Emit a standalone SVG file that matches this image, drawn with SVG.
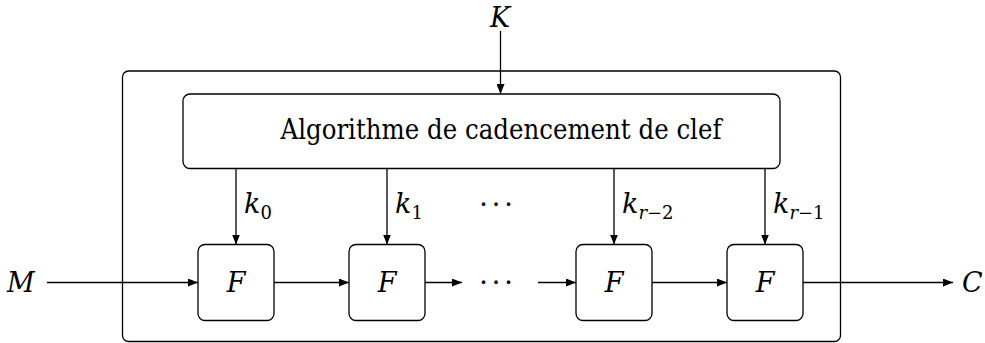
<svg xmlns="http://www.w3.org/2000/svg" width="985" height="343" viewBox="0 0 985 343">
  <style>
    .box { fill: #fff; stroke: #000; stroke-width: 1.3; }
    .wire { fill: none; stroke: #000; stroke-width: 1.3; marker-end: url(#tip); }
    text { font-family: "DejaVu Serif", serif; fill: #000; }
    .txt { font-size: 27px; }
    .math { font-style: italic; font-size: 27px; }
    .sub { font-size: 18px; font-style: normal; }
    .subi { font-style: italic; }
  </style>
  <defs>
    <marker id="tip" viewBox="0 0 10 8" refX="10" refY="4" markerWidth="10" markerHeight="8" markerUnits="userSpaceOnUse" orient="auto">
      <path d="M0,0 L10,4 L0,8 z" fill="#000"/>
    </marker>
  </defs>

  <!-- enclosing cipher block -->
  <g id="cipher">
    <rect class="box" x="122.5" y="71" width="718" height="270.5" rx="6"/>
  </g>

  <!-- key schedule -->
  <g id="key-schedule">
    <rect class="box" x="183" y="94" width="597" height="74.5" rx="7"/>
    <text class="txt" x="501" y="138.5" text-anchor="middle" textLength="441" lengthAdjust="spacingAndGlyphs">Algorithme de cadencement de clef</text>
  </g>

  <!-- round functions -->
  <g id="round-0">
    <rect class="box" x="198" y="244.5" width="76" height="76" rx="7"/>
    <text class="math" x="236" y="292" text-anchor="middle">F</text>
  </g>
  <g id="round-1">
    <rect class="box" x="349" y="244.5" width="76" height="76" rx="7"/>
    <text class="math" x="387" y="292" text-anchor="middle">F</text>
  </g>
  <g id="round-r-2">
    <rect class="box" x="576" y="244.5" width="76" height="76" rx="7"/>
    <text class="math" x="614" y="292" text-anchor="middle">F</text>
  </g>
  <g id="round-r-1">
    <rect class="box" x="727" y="244.5" width="76" height="76" rx="7"/>
    <text class="math" x="765" y="292" text-anchor="middle">F</text>
  </g>

  <!-- inputs, outputs and ellipses -->
  <g id="labels">
    <text class="math" x="500" y="27" text-anchor="middle">K</text>
    <text class="math" x="7" y="292">M</text>
    <text class="math" x="962" y="292">C</text>
    <text class="txt" x="498" y="292" text-anchor="middle" letter-spacing="4">···</text>
    <text class="txt" x="498" y="214" text-anchor="middle" letter-spacing="4">···</text>
    <text class="math" x="244" y="213">k<tspan class="sub" dy="6">0</tspan></text>
    <text class="math" x="395" y="213">k<tspan class="sub" dy="6">1</tspan></text>
    <text class="math" x="622" y="213">k<tspan class="sub" dy="6"><tspan class="subi">r</tspan>−2</tspan></text>
    <text class="math" x="773" y="213">k<tspan class="sub" dy="6"><tspan class="subi">r</tspan>−1</tspan></text>
  </g>

  <!-- connectors -->
  <g id="connectors">
    <line class="wire" x1="500.5" y1="31" x2="500.5" y2="94"/>
    <line class="wire" x1="236" y1="168.5" x2="236" y2="244.5"/>
    <line class="wire" x1="387" y1="168.5" x2="387" y2="244.5"/>
    <line class="wire" x1="614" y1="168.5" x2="614" y2="244.5"/>
    <line class="wire" x1="765" y1="168.5" x2="765" y2="244.5"/>
    <line class="wire" x1="47" y1="282.5" x2="198" y2="282.5"/>
    <line class="wire" x1="274" y1="282.5" x2="349" y2="282.5"/>
    <line class="wire" x1="425" y1="282.5" x2="462" y2="282.5"/>
    <line class="wire" x1="538" y1="282.5" x2="576" y2="282.5"/>
    <line class="wire" x1="652" y1="282.5" x2="727" y2="282.5"/>
    <line class="wire" x1="803" y1="282.5" x2="953" y2="282.5"/>
  </g>
</svg>
